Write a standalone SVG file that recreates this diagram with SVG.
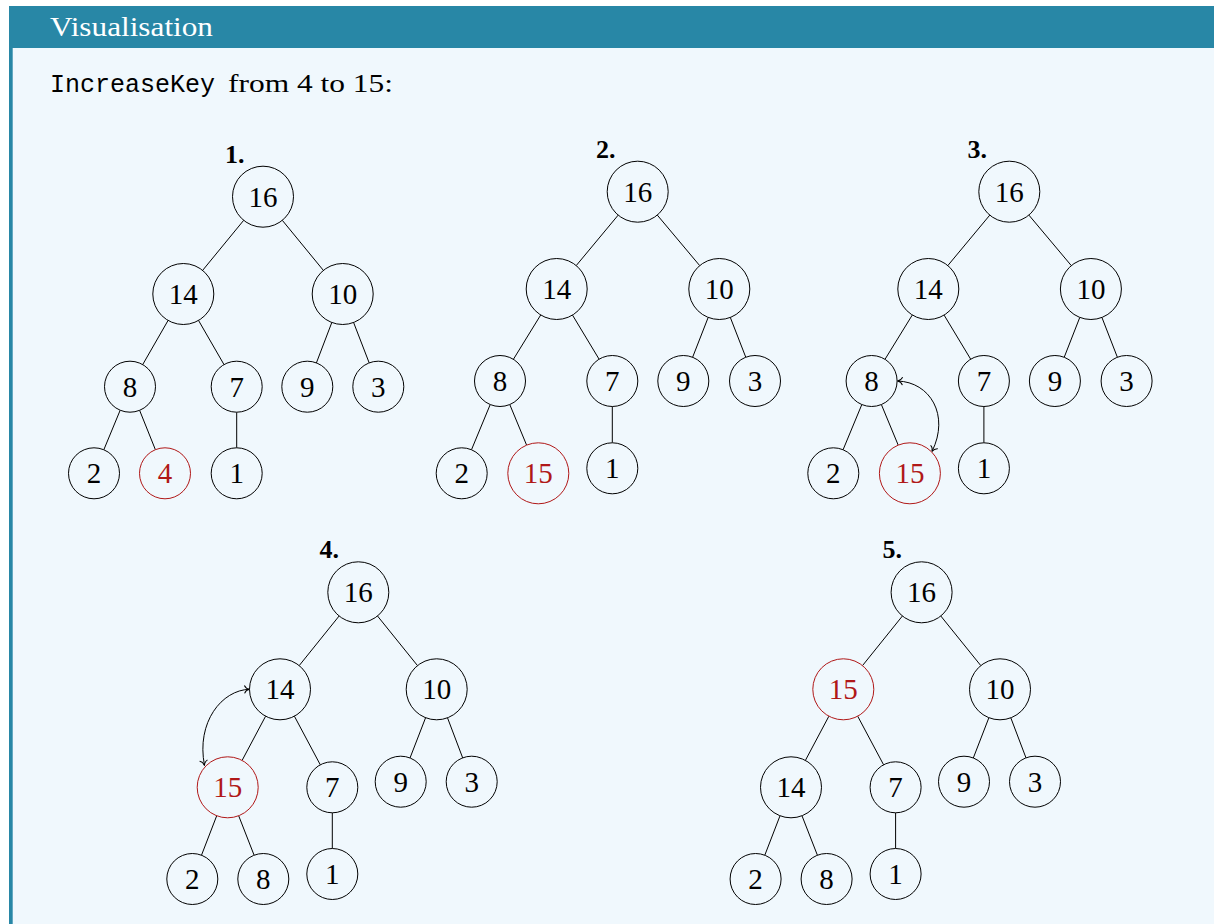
<svg xmlns="http://www.w3.org/2000/svg" width="1214" height="924" viewBox="0 0 1214 924">
<style>
.frame{fill:#2887a6}
.body{fill:#f0f8fd}
.title{font-family:"Liberation Serif",serif;font-size:28px;fill:#ffffff}
.mono{font-family:"Liberation Mono",monospace;font-size:25px;fill:#000}
.serif{font-family:"Liberation Serif",serif;font-size:26px;fill:#000}
.step{font-family:"Liberation Serif",serif;font-size:26px;font-weight:bold;fill:#000}
.edge{stroke:#000;stroke-width:1;fill:none}
.swap{stroke:#000;stroke-width:1;fill:none;marker-start:url(#tip);marker-end:url(#tip)}
.n circle{fill:#f0f8fd;stroke:#000;stroke-width:1}
.n text{font-family:"Liberation Serif",serif;font-size:29px;fill:#000;text-anchor:middle}
.hl circle{stroke:#b01818}
.hl text{fill:#b01818}
</style>
<defs>
<marker id="tip" viewBox="-6 -5 8 10" markerWidth="8" markerHeight="10" refX="0" refY="0" orient="auto-start-reverse" markerUnits="userSpaceOnUse">
<path d="M-5,-4 C-4,-1.5 -1.5,-0.3 0,0 C-1.5,0.3 -4,1.5 -5,4" fill="none" stroke="#000" stroke-width="1"/>
</marker>
</defs>
<rect x="0" y="0" width="1214" height="924" fill="#ffffff"/>
<rect class="frame" x="9" y="6" width="1205" height="918"/>
<rect class="body" x="12.7" y="48" width="1201.3" height="876"/>
<text class="title" x="50" y="36" textLength="163" lengthAdjust="spacingAndGlyphs">Visualisation</text>
<text class="mono" x="50" y="92">IncreaseKey</text>
<text class="serif" x="228" y="92" textLength="165" lengthAdjust="spacingAndGlyphs">from 4 to 15:</text>

<text class="step" x="225" y="162.7">1.</text>
<text class="step" x="596" y="157.7">2.</text>
<text class="step" x="967.5" y="157.7">3.</text>
<text class="step" x="319.5" y="557.7">4.</text>
<text class="step" x="882.5" y="557.7">5.</text>

<g id="connectors">
<!-- tree 1 -->
<line class="edge" x1="243.7" y1="220.3" x2="202.6" y2="270.4"/>
<line class="edge" x1="282.3" y1="220.3" x2="323.4" y2="270.4"/>
<line class="edge" x1="168.1" y1="320.4" x2="142.7" y2="364.6"/>
<line class="edge" x1="198.5" y1="320.4" x2="224" y2="364.6"/>
<line class="edge" x1="331.8" y1="322.5" x2="316.4" y2="362.9"/>
<line class="edge" x1="353.6" y1="322.5" x2="369.2" y2="362.9"/>
<line class="edge" x1="120.2" y1="410.2" x2="103.8" y2="449.8"/>
<line class="edge" x1="139.6" y1="410.3" x2="155.4" y2="449.7"/>
<line class="edge" x1="236.7" y1="412.2" x2="236.7" y2="447.8"/>
<!-- tree 2 -->
<line class="edge" x1="618.2" y1="215.1" x2="576.2" y2="265.6"/>
<line class="edge" x1="657.3" y1="215.1" x2="699.7" y2="265.6"/>
<line class="edge" x1="540.7" y1="315" x2="513.4" y2="359.3"/>
<line class="edge" x1="572.5" y1="315.1" x2="599.1" y2="359.2"/>
<line class="edge" x1="708.2" y1="317.4" x2="692.6" y2="357.3"/>
<line class="edge" x1="730.3" y1="317.4" x2="745.8" y2="357.3"/>
<line class="edge" x1="490.2" y1="404.6" x2="471.5" y2="449.7"/>
<line class="edge" x1="509.8" y1="404.6" x2="526.6" y2="445.1"/>
<line class="edge" x1="612.3" y1="406.5" x2="612.3" y2="442.8"/>
<!-- tree 3 -->
<line class="edge" x1="989.8" y1="215.1" x2="947.8" y2="265.6"/>
<line class="edge" x1="1028.9" y1="215.1" x2="1071.3" y2="265.6"/>
<line class="edge" x1="912.3" y1="315" x2="885" y2="359.3"/>
<line class="edge" x1="944.1" y1="315.1" x2="970.7" y2="359.2"/>
<line class="edge" x1="1079.8" y1="317.4" x2="1064.2" y2="357.3"/>
<line class="edge" x1="1101.9" y1="317.4" x2="1117.4" y2="357.3"/>
<line class="edge" x1="861.8" y1="404.6" x2="843.1" y2="449.7"/>
<line class="edge" x1="881.4" y1="404.6" x2="898.2" y2="445.1"/>
<line class="edge" x1="983.9" y1="406.5" x2="983.9" y2="442.8"/>
<path class="swap" d="M897.5,381 C930,382 950,415 932,451.5"/>
<!-- tree 4 -->
<line class="edge" x1="339.1" y1="616" x2="299.2" y2="665.6"/>
<line class="edge" x1="377.5" y1="616" x2="417.5" y2="665.6"/>
<line class="edge" x1="265.6" y1="716.2" x2="242.1" y2="760.4"/>
<line class="edge" x1="294.4" y1="716.2" x2="320.3" y2="764.8"/>
<line class="edge" x1="425.6" y1="717.7" x2="410" y2="758"/>
<line class="edge" x1="447.5" y1="717.8" x2="462.7" y2="757.9"/>
<line class="edge" x1="216.7" y1="815.8" x2="201.5" y2="855.2"/>
<line class="edge" x1="238.7" y1="815.8" x2="254.1" y2="855.2"/>
<line class="edge" x1="332.3" y1="812.8" x2="332.3" y2="848.5"/>
<path class="swap" d="M249.5,689.3 C222,690 196,722 204.5,765.5"/>
<!-- tree 5 -->
<line class="edge" x1="902.4" y1="616" x2="862.5" y2="665.6"/>
<line class="edge" x1="940.8" y1="616" x2="980.8" y2="665.6"/>
<line class="edge" x1="828.9" y1="716.2" x2="805.4" y2="760.4"/>
<line class="edge" x1="857.7" y1="716.2" x2="883.6" y2="764.8"/>
<line class="edge" x1="988.9" y1="717.7" x2="973.3" y2="758"/>
<line class="edge" x1="1010.8" y1="717.8" x2="1026" y2="757.9"/>
<line class="edge" x1="780" y1="815.8" x2="764.8" y2="855.2"/>
<line class="edge" x1="802" y1="815.8" x2="817.4" y2="855.2"/>
<line class="edge" x1="895.6" y1="812.8" x2="895.6" y2="848.5"/>
</g>

<!-- tree 1 nodes -->
<g id="t1-16" class="n"><circle cx="263" cy="196.7" r="30.5"/><text x="263" y="206.7">16</text></g>
<g id="t1-14" class="n"><circle cx="183.3" cy="294" r="30.5"/><text x="183.3" y="304">14</text></g>
<g id="t1-10" class="n"><circle cx="342.7" cy="294" r="30.5"/><text x="342.7" y="304">10</text></g>
<g id="t1-8" class="n"><circle cx="130" cy="386.7" r="25.5"/><text x="130" y="396.7">8</text></g>
<g id="t1-7" class="n"><circle cx="236.7" cy="386.7" r="25.5"/><text x="236.7" y="396.7">7</text></g>
<g id="t1-9" class="n"><circle cx="307.3" cy="386.7" r="25.5"/><text x="307.3" y="396.7">9</text></g>
<g id="t1-3" class="n"><circle cx="378.3" cy="386.7" r="25.5"/><text x="378.3" y="396.7">3</text></g>
<g id="t1-2" class="n"><circle cx="94" cy="473.3" r="25.5"/><text x="94" y="483.3">2</text></g>
<g id="t1-4" class="n hl"><circle cx="165" cy="473.3" r="25.5"/><text x="165" y="483.3">4</text></g>
<g id="t1-1" class="n"><circle cx="236.7" cy="473.3" r="25.5"/><text x="236.7" y="483.3">1</text></g>

<!-- tree 2 nodes -->
<g id="t2-16" class="n"><circle cx="637.7" cy="191.7" r="30.5"/><text x="637.7" y="201.7">16</text></g>
<g id="t2-14" class="n"><circle cx="556.7" cy="289" r="30.5"/><text x="556.7" y="299">14</text></g>
<g id="t2-10" class="n"><circle cx="719.3" cy="289" r="30.5"/><text x="719.3" y="299">10</text></g>
<g id="t2-8" class="n"><circle cx="500" cy="381" r="25.5"/><text x="500" y="391">8</text></g>
<g id="t2-7" class="n"><circle cx="612.3" cy="381" r="25.5"/><text x="612.3" y="391">7</text></g>
<g id="t2-9" class="n"><circle cx="683.3" cy="381" r="25.5"/><text x="683.3" y="391">9</text></g>
<g id="t2-3" class="n"><circle cx="755" cy="381" r="25.5"/><text x="755" y="391">3</text></g>
<g id="t2-2" class="n"><circle cx="461.7" cy="473.3" r="25.5"/><text x="461.7" y="483.3">2</text></g>
<g id="t2-15" class="n hl"><circle cx="538.3" cy="473.3" r="30.5"/><text x="538.3" y="483.3">15</text></g>
<g id="t2-1" class="n"><circle cx="612.3" cy="468.3" r="25.5"/><text x="612.3" y="478.3">1</text></g>

<!-- tree 3 nodes -->
<g id="t3-16" class="n"><circle cx="1009.3" cy="191.7" r="30.5"/><text x="1009.3" y="201.7">16</text></g>
<g id="t3-14" class="n"><circle cx="928.3" cy="289" r="30.5"/><text x="928.3" y="299">14</text></g>
<g id="t3-10" class="n"><circle cx="1090.9" cy="289" r="30.5"/><text x="1090.9" y="299">10</text></g>
<g id="t3-8" class="n"><circle cx="871.6" cy="381" r="25.5"/><text x="871.6" y="391">8</text></g>
<g id="t3-7" class="n"><circle cx="983.9" cy="381" r="25.5"/><text x="983.9" y="391">7</text></g>
<g id="t3-9" class="n"><circle cx="1054.9" cy="381" r="25.5"/><text x="1054.9" y="391">9</text></g>
<g id="t3-3" class="n"><circle cx="1126.6" cy="381" r="25.5"/><text x="1126.6" y="391">3</text></g>
<g id="t3-2" class="n"><circle cx="833.3" cy="473.3" r="25.5"/><text x="833.3" y="483.3">2</text></g>
<g id="t3-15" class="n hl"><circle cx="909.9" cy="473.3" r="30.5"/><text x="909.9" y="483.3">15</text></g>
<g id="t3-1" class="n"><circle cx="983.9" cy="468.3" r="25.5"/><text x="983.9" y="478.3">1</text></g>

<!-- tree 4 nodes -->
<g id="t4-16" class="n"><circle cx="358.3" cy="592.3" r="30.5"/><text x="358.3" y="602.3">16</text></g>
<g id="t4-14" class="n"><circle cx="280" cy="689.3" r="30.5"/><text x="280" y="699.3">14</text></g>
<g id="t4-10" class="n"><circle cx="436.7" cy="689.3" r="30.5"/><text x="436.7" y="699.3">10</text></g>
<g id="t4-15" class="n hl"><circle cx="227.7" cy="787.3" r="30.5"/><text x="227.7" y="797.3">15</text></g>
<g id="t4-7" class="n"><circle cx="332.3" cy="787.3" r="25.5"/><text x="332.3" y="797.3">7</text></g>
<g id="t4-9" class="n"><circle cx="400.7" cy="781.7" r="25.5"/><text x="400.7" y="791.7">9</text></g>
<g id="t4-3" class="n"><circle cx="471.7" cy="781.7" r="25.5"/><text x="471.7" y="791.7">3</text></g>
<g id="t4-2" class="n"><circle cx="192.3" cy="879" r="25.5"/><text x="192.3" y="889">2</text></g>
<g id="t4-8" class="n"><circle cx="263.3" cy="879" r="25.5"/><text x="263.3" y="889">8</text></g>
<g id="t4-1" class="n"><circle cx="332.3" cy="874" r="25.5"/><text x="332.3" y="884">1</text></g>

<!-- tree 5 nodes -->
<g id="t5-16" class="n"><circle cx="921.6" cy="592.3" r="30.5"/><text x="921.6" y="602.3">16</text></g>
<g id="t5-15" class="n hl"><circle cx="843.3" cy="689.3" r="30.5"/><text x="843.3" y="699.3">15</text></g>
<g id="t5-10" class="n"><circle cx="1000" cy="689.3" r="30.5"/><text x="1000" y="699.3">10</text></g>
<g id="t5-14" class="n"><circle cx="791" cy="787.3" r="30.5"/><text x="791" y="797.3">14</text></g>
<g id="t5-7" class="n"><circle cx="895.6" cy="787.3" r="25.5"/><text x="895.6" y="797.3">7</text></g>
<g id="t5-9" class="n"><circle cx="964" cy="781.7" r="25.5"/><text x="964" y="791.7">9</text></g>
<g id="t5-3" class="n"><circle cx="1035" cy="781.7" r="25.5"/><text x="1035" y="791.7">3</text></g>
<g id="t5-2" class="n"><circle cx="755.6" cy="879" r="25.5"/><text x="755.6" y="889">2</text></g>
<g id="t5-8" class="n"><circle cx="826.6" cy="879" r="25.5"/><text x="826.6" y="889">8</text></g>
<g id="t5-1" class="n"><circle cx="895.6" cy="874" r="25.5"/><text x="895.6" y="884">1</text></g>
</svg>
